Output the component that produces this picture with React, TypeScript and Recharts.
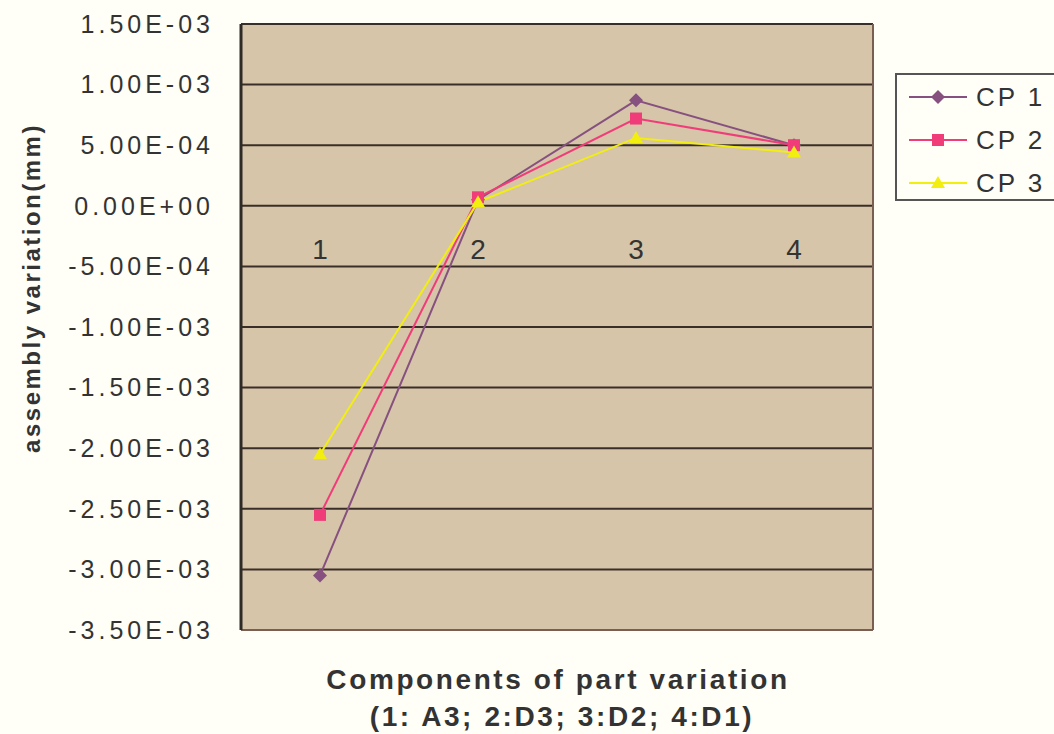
import React from 'react';
import {
  LineChart,
  Line,
  XAxis,
  YAxis,
  CartesianGrid,
  Legend,
  ReferenceDot,
} from 'recharts';

const categories = ['1', '2', '3', '4'];
const cp1 = [-3.05e-3, 5e-5, 8.7e-4, 5.0e-4];
const cp2 = [-2.55e-3, 7e-5, 7.2e-4, 5.0e-4];
const cp3 = [-2.05e-3, 3e-5, 5.6e-4, 4.4e-4];
const yTicks = [-0.0035, -0.003, -0.0025, -0.002, -0.0015, -0.001, -0.0005, 0, 0.0005, 0.001, 0.0015];
const seriesNames = ['CP 1', 'CP 2', 'CP 3'];

const data = categories.map((c, i) => ({ cat: c, cp1: cp1[i], cp2: cp2[i], cp3: cp3[i] }));

const COLORS = ['#86507f', '#f03c78', '#f2ee10'];
const TEXT = '#333333';
const FONT = 'Arial, "Liberation Sans", sans-serif';

const fmtExp = (v: number) => {
  const [m, e] = v.toExponential(2).split('e');
  const n = parseInt(e, 10);
  const sign = n < 0 ? '-' : '+';
  return `${m}E${sign}${String(Math.abs(n)).padStart(2, '0')}`;
};

const Marker = ({ kind, cx, cy, color }: any) => {
  if (kind === 0) {
    return <polygon points={`${cx},${cy - 7} ${cx + 7},${cy} ${cx},${cy + 7} ${cx - 7},${cy}`} fill={color} />;
  }
  if (kind === 1) {
    return <rect x={cx - 6} y={cy - 6} width={12} height={12} fill={color} />;
  }
  return <polygon points={`${cx},${cy - 7} ${cx + 7},${cy + 5} ${cx - 7},${cy + 5}`} fill={color} />;
};

const makeDot = (kind: number) => (props: any) => {
  const { cx, cy, index } = props;
  return <Marker key={`m-${kind}-${index}`} kind={kind} cx={cx} cy={cy} color={COLORS[kind]} />;
};

const LegendBox = () => (
  <div
    style={{
      width: 165,
      height: 128,
      border: '2px solid #555',
      background: '#fffff7',
      boxSizing: 'border-box',
    }}
  >
    <svg width={165} height={124}>
      {seriesNames.map((name, i) => {
        const y = 22 + i * 43;
        return (
          <g key={name}>
            <line x1={12} x2={70} y1={y} y2={y} stroke={COLORS[i]} strokeWidth={2} />
            <Marker kind={i} cx={41} cy={y} color={COLORS[i]} />
            <text
              x={79}
              y={y}
              dominantBaseline="central"
              fontSize={26}
              letterSpacing={3}
              fill={TEXT}
              fontFamily={FONT}
            >
              {name}
            </text>
          </g>
        );
      })}
    </svg>
  </div>
);

export default function App() {
  return (
    <div style={{ position: 'absolute', left: 0, top: 0, width: 1054, height: 734, background: '#fffff7' }}>
      <LineChart
        width={1054}
        height={734}
        data={data}
        margin={{ top: 24, right: 15, left: 0, bottom: 103 }}
        style={{ fontFamily: FONT }}
      >
        <CartesianGrid horizontal vertical={false} fill="#d6c5a9" stroke="#3a2f28" strokeWidth={2} />
        <XAxis
          dataKey="cat"
          padding={{ left: 79, right: 79 }}
          height={1}
          tick={false}
          tickLine={false}
          axisLine={{ stroke: '#7a5e52', strokeWidth: 2 }}
          label={{
            content: () => (
              <text textAnchor="middle" fontFamily={FONT} fontWeight="bold" fontSize={28} letterSpacing={2.6} fill={TEXT}>
                <tspan x={558} y={689}>Components of part variation</tspan>
                <tspan x={562} y={726}>(1: A3; 2:D3; 3:D2; 4:D1)</tspan>
              </text>
            ),
          }}
        />
        <YAxis
          width={241}
          domain={[-0.0035, 0.0015]}
          ticks={yTicks}
          interval={0}
          tickFormatter={fmtExp}
          tickSize={0}
          tickMargin={27}
          tickLine={false}
          axisLine={{ stroke: '#2e2a26', strokeWidth: 3 }}
          tick={{ fontSize: 25, fill: TEXT, letterSpacing: 4, fontFamily: FONT }}
          label={{
            content: () => (
              <text
                x={31}
                y={288}
                transform="rotate(-90 31 288)"
                textAnchor="middle"
                dominantBaseline="central"
                fontFamily={FONT}
                fontWeight="bold"
                fontSize={24}
                letterSpacing={2.5}
                fill={TEXT}
              >
                assembly variation(mm)
              </text>
            ),
          }}
        />
        <YAxis
          yAxisId="right"
          orientation="right"
          width={1}
          domain={[-0.0035, 0.0015]}
          tick={false}
          tickLine={false}
          axisLine={{ stroke: '#7a5e52', strokeWidth: 2 }}
        />
        {categories.map((c) => (
          <ReferenceDot
            key={`lbl-${c}`}
            x={c}
            y={0}
            r={0.01}
            fill="none"
            stroke="none"
            label={{ value: c, position: 'bottom', offset: 33, fontSize: 28, fill: TEXT, fontFamily: FONT }}
          />
        ))}
        <Legend
          layout="vertical"
          align="right"
          verticalAlign="top"
          wrapperStyle={{ top: 73, right: -6, left: 'auto' }}
          content={() => <LegendBox />}
        />
        <Line
          dataKey="cp1"
          name={seriesNames[0]}
          stroke={COLORS[0]}
          strokeWidth={2}
          dot={makeDot(0)}
          isAnimationActive={false}
        />
        <Line
          dataKey="cp2"
          name={seriesNames[1]}
          stroke={COLORS[1]}
          strokeWidth={2}
          dot={makeDot(1)}
          isAnimationActive={false}
        />
        <Line
          dataKey="cp3"
          name={seriesNames[2]}
          stroke={COLORS[2]}
          strokeWidth={2}
          dot={makeDot(2)}
          isAnimationActive={false}
        />
      </LineChart>
    </div>
  );
}
